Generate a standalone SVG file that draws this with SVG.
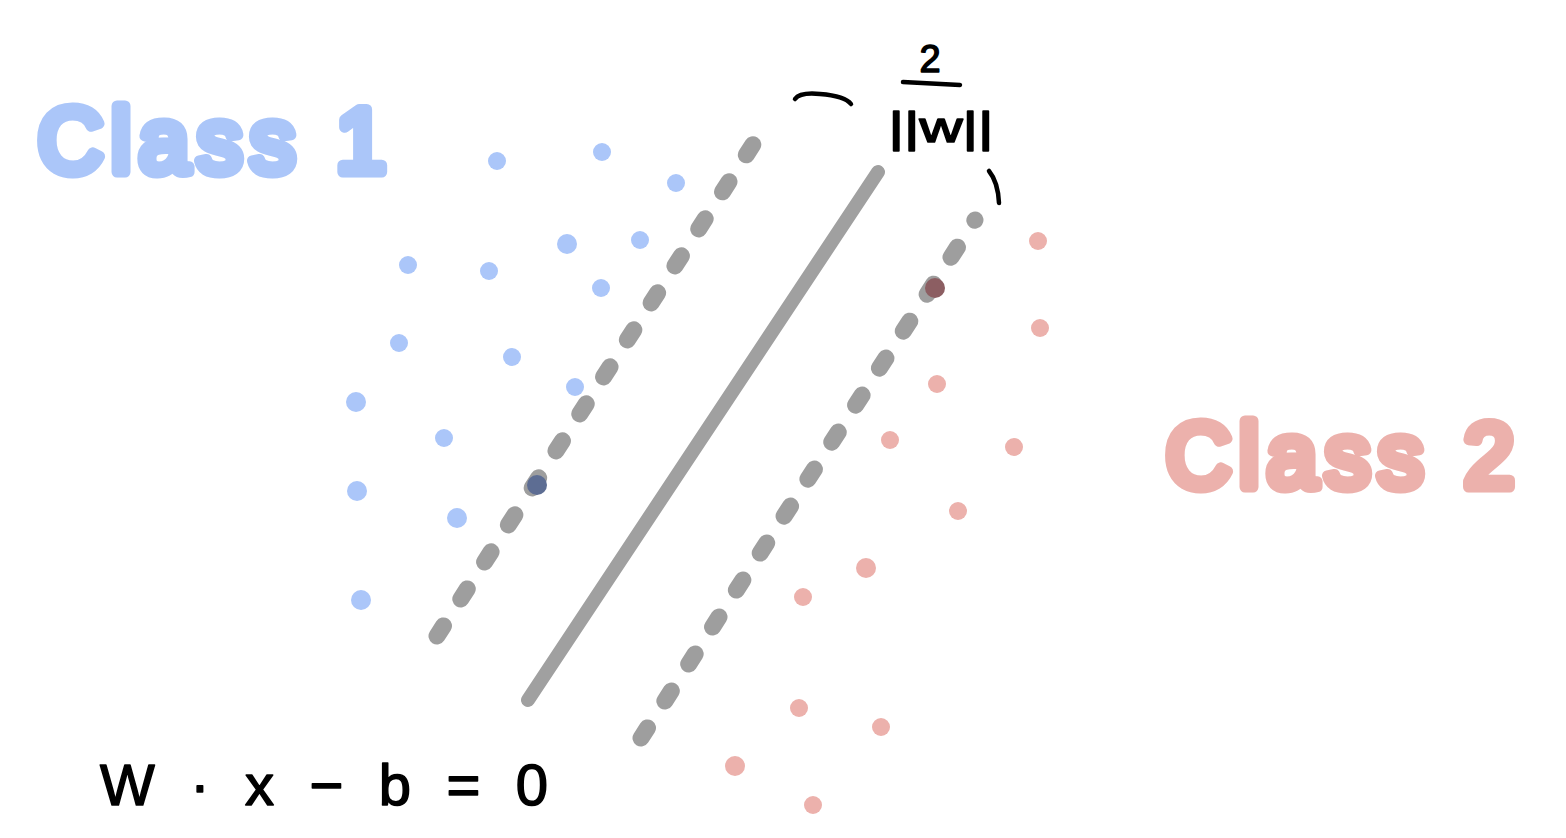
<svg xmlns="http://www.w3.org/2000/svg" width="1566" height="838" viewBox="0 0 1566 838">
<style>
.blue{fill:#abc6f9}
.red{fill:#ecb1ac}
.dash{stroke:#9e9e9e;stroke-width:17;stroke-linecap:round;stroke-dasharray:12 32;fill:none}
.hand{font-family:"Liberation Sans",Arial,sans-serif;font-weight:normal;font-size:90px;letter-spacing:8px;stroke-width:11;stroke-linejoin:round;stroke-linecap:round}
.ink{fill:none;stroke:#000;stroke-width:4.5;stroke-linecap:round}
.eq{font-family:"Liberation Sans",Arial,sans-serif;fill:#000;stroke:#000;stroke-width:1.5;stroke-linejoin:round}
</style>
<rect width="1566" height="838" fill="#fff"/>
<g id="class1-points">
<circle class="blue" cx="497" cy="161" r="9"/>
<circle class="blue" cx="602" cy="152" r="9"/>
<circle class="blue" cx="676" cy="183" r="9"/>
<circle class="blue" cx="567" cy="244" r="10"/>
<circle class="blue" cx="640" cy="240" r="9"/>
<circle class="blue" cx="408" cy="265" r="9"/>
<circle class="blue" cx="489" cy="271" r="9"/>
<circle class="blue" cx="601" cy="288" r="9"/>
<circle class="blue" cx="399" cy="343" r="9"/>
<circle class="blue" cx="512" cy="357" r="9"/>
<circle class="blue" cx="575" cy="387" r="9"/>
<circle class="blue" cx="356" cy="402" r="10"/>
<circle class="blue" cx="444" cy="438" r="9"/>
<circle class="blue" cx="357" cy="491" r="10"/>
<circle class="blue" cx="457" cy="518" r="10"/>
<circle class="blue" cx="361" cy="600" r="10"/>
</g>
<g id="class2-points">
<circle class="red" cx="1038" cy="241" r="9"/>
<circle class="red" cx="1040" cy="328" r="9"/>
<circle class="red" cx="937" cy="384" r="9"/>
<circle class="red" cx="890" cy="440" r="9"/>
<circle class="red" cx="1014" cy="447" r="9"/>
<circle class="red" cx="958" cy="511" r="9"/>
<circle class="red" cx="866" cy="568" r="10"/>
<circle class="red" cx="803" cy="597" r="9"/>
<circle class="red" cx="799" cy="708" r="9"/>
<circle class="red" cx="881" cy="727" r="9"/>
<circle class="red" cx="735" cy="766" r="10"/>
<circle class="red" cx="813" cy="805" r="9"/>
</g>
<g id="connectors">
<line class="dash" x1="437" y1="636" x2="770" y2="118"/>
<line class="dash" x1="641" y1="738" x2="975" y2="220"/>
<line id="hyperplane" x1="528" y1="700" x2="878" y2="172" stroke="#a0a0a0" stroke-width="14" stroke-linecap="round"/>
<circle cx="537" cy="485" r="10" fill="#5d6d93"/>
<circle cx="935" cy="288" r="10" fill="#8c5e62"/>
</g>
<g id="margin-label">
<path class="ink" d="M795 99 Q800 92 820 94 Q845 96 851 104"/>
<path class="ink" d="M989 171 Q998 182 999 203"/>
<text class="eq" x="930" y="72" font-size="38" text-anchor="middle">2</text>
<line class="ink" x1="903" y1="82" x2="960" y2="85"/>
<text class="eq" x="941" y="142" font-size="42" text-anchor="middle" textLength="105" lengthAdjust="spacingAndGlyphs">||w||</text>
</g>
<g id="class1-label">
<text class="hand" x="38" y="172" fill="#abc6f9" stroke="#abc6f9">Class 1</text>
</g>
<g id="class2-label">
<text class="hand" x="1166" y="487" fill="#ecb1ac" stroke="#ecb1ac">Class 2</text>
</g>
<g id="equation">
<text class="eq" x="100" y="805" font-size="58" textLength="448" lengthAdjust="spacing">W · x − b = 0</text>
</g>
</svg>
